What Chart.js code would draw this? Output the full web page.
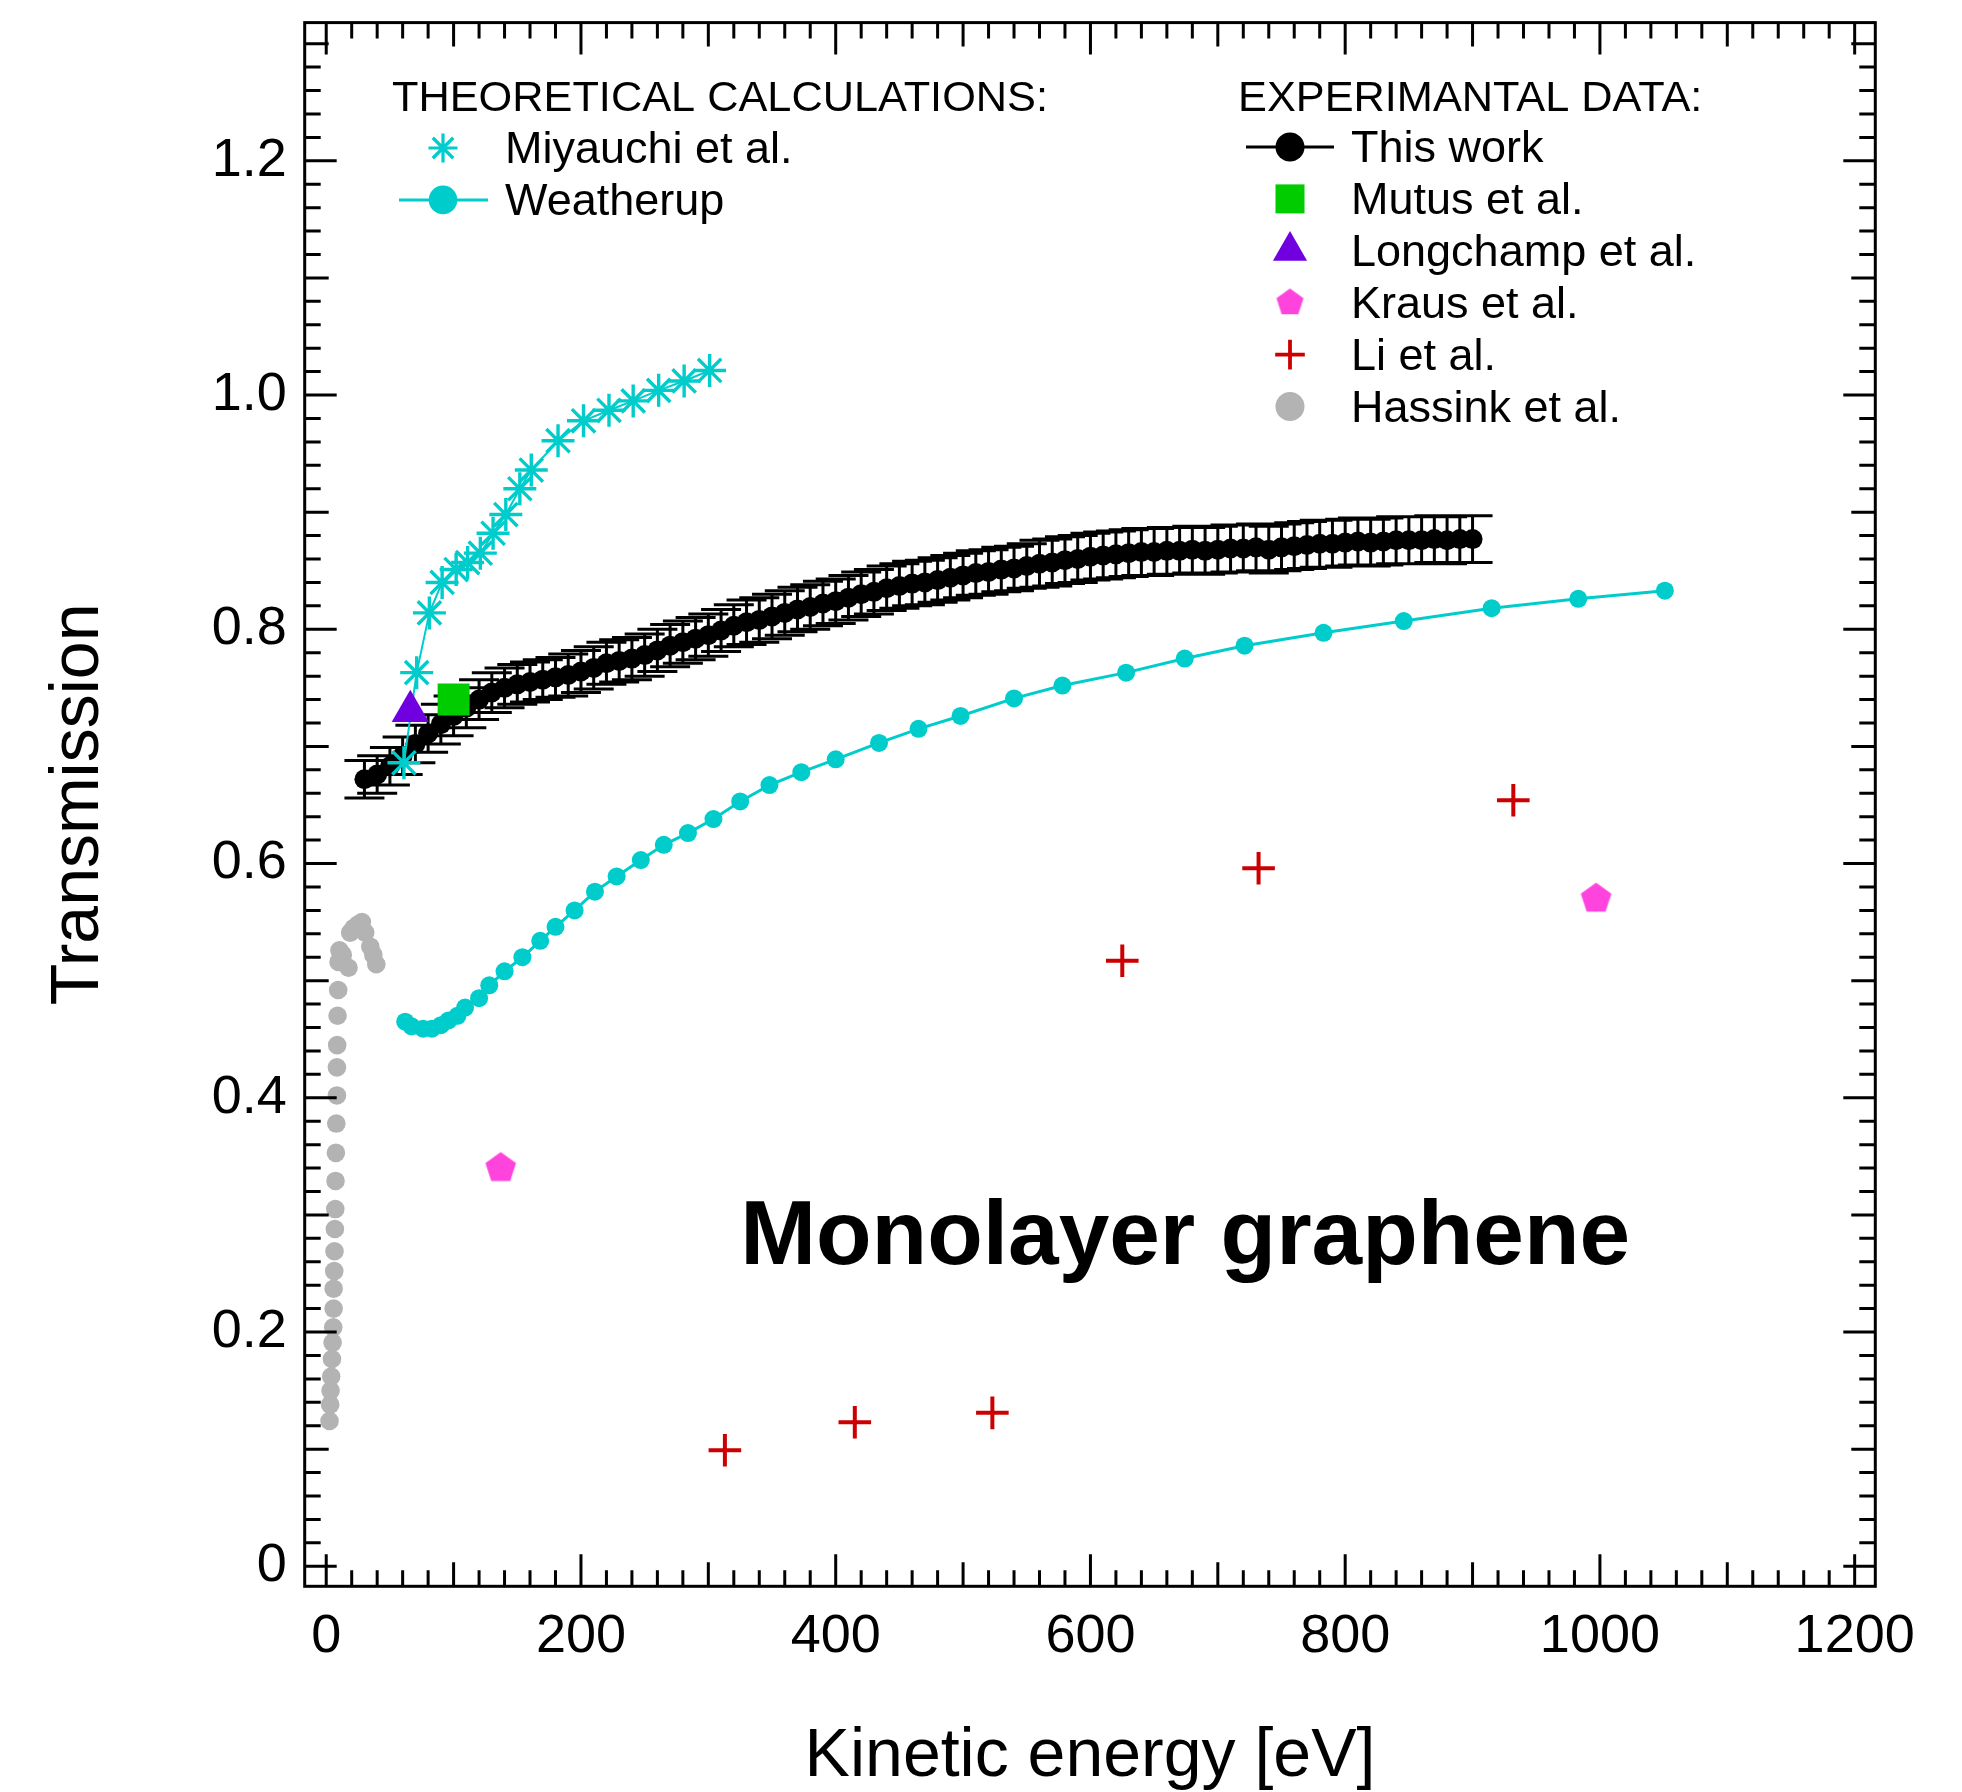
<!DOCTYPE html>
<html>
<head>
<meta charset="utf-8">
<title>Monolayer graphene transmission</title>
<script src="https://cdn.jsdelivr.net/npm/chart.js"></script>
<style>
  html, body { margin: 0; padding: 0; background: #fff; }
  canvas { display: block; }
</style>
</head>
<body>
<canvas id="chart" width="1962" height="1792"></canvas>
<script>
const FONT = "'Liberation Sans', Arial, Helvetica, sans-serif";

// axis ranges and labelled ticks
const xRange = [-16.9, 1216.2];
const yRange = [-0.0171, 1.318];
const xTickLabels = [0, 200, 400, 600, 800, 1000, 1200];
const yTickLabels = [0, 0.2, 0.4, 0.6, 0.8, 1.0, 1.2];

// This work (kinetic energy in eV, transmission, error)
const thisWorkE = [30, 40, 50, 60, 70, 80, 90, 100, 110, 120,
  130, 140, 150, 160, 170, 180, 190, 200, 210, 220,
  230, 240, 250, 260, 270, 280, 290, 300, 310, 320,
  330, 340, 350, 360, 370, 380, 390, 400, 410, 420,
  430, 440, 450, 460, 470, 480, 490, 500, 510, 520,
  530, 540, 550, 560, 570, 580, 590, 600, 610, 620,
  630, 640, 650, 660, 670, 680, 690, 700, 710, 720,
  730, 740, 750, 760, 770, 780, 790, 800, 810, 820,
  830, 840, 850, 860, 870, 880, 890, 900];
const thisWorkT = [0.672, 0.676, 0.683, 0.692, 0.702, 0.711, 0.719, 0.726, 0.733, 0.740,
  0.746, 0.750, 0.753, 0.755, 0.757, 0.759, 0.761, 0.764, 0.767, 0.771,
  0.773, 0.775, 0.778, 0.782, 0.786, 0.789, 0.792, 0.795, 0.799, 0.803,
  0.806, 0.808, 0.811, 0.814, 0.817, 0.819, 0.822, 0.824, 0.827, 0.830,
  0.832, 0.835, 0.837, 0.839, 0.840, 0.842, 0.844, 0.846, 0.848, 0.849,
  0.851, 0.852, 0.854, 0.856, 0.857, 0.859, 0.860, 0.862, 0.863, 0.864,
  0.865, 0.866, 0.866, 0.867, 0.867, 0.868, 0.867, 0.868, 0.869, 0.869,
  0.870, 0.868, 0.870, 0.871, 0.872, 0.873, 0.873, 0.874, 0.875, 0.874,
  0.875, 0.876, 0.876, 0.876, 0.877, 0.876, 0.877, 0.877];
const thisWorkErr = [0.016, 0.016, 0.016, 0.016, 0.016, 0.016, 0.017, 0.017, 0.017, 0.017,
  0.017, 0.017, 0.017, 0.017, 0.017, 0.017, 0.018, 0.018, 0.018, 0.018,
  0.018, 0.018, 0.018, 0.018, 0.018, 0.018, 0.018, 0.018, 0.018, 0.018,
  0.019, 0.019, 0.019, 0.019, 0.019, 0.019, 0.019, 0.019, 0.019, 0.019,
  0.019, 0.019, 0.019, 0.019, 0.019, 0.019, 0.019, 0.019, 0.019, 0.019,
  0.019, 0.019, 0.019, 0.020, 0.020, 0.020, 0.020, 0.020, 0.020, 0.020,
  0.020, 0.020, 0.020, 0.020, 0.020, 0.020, 0.020, 0.020, 0.020, 0.020,
  0.020, 0.020, 0.020, 0.020, 0.020, 0.020, 0.020, 0.020, 0.020, 0.020,
  0.020, 0.020, 0.020, 0.020, 0.020, 0.020, 0.020, 0.020];

// Weatherup calculation
const weatherupE = [62, 67, 76, 83, 90, 96, 103, 109, 120, 128, 140, 154, 168, 180, 195,
  211, 228, 247, 265, 284, 304, 325, 348, 373, 400, 434, 465, 498, 540, 578,
  628, 674, 721, 783, 846, 915, 983, 1051];
const weatherupT = [0.465, 0.461, 0.459, 0.459, 0.462, 0.466, 0.470, 0.477, 0.485, 0.496,
  0.508, 0.520, 0.534, 0.546, 0.560, 0.576, 0.589, 0.603, 0.616, 0.626,
  0.638, 0.653, 0.667, 0.678, 0.689, 0.703, 0.715, 0.726, 0.741, 0.752,
  0.763, 0.775, 0.786, 0.797, 0.807, 0.818, 0.826, 0.833];

// Miyauchi et al. calculation
const miyauchiE = [61, 71, 81, 91, 102, 111, 121, 131, 141, 152, 161, 182, 202, 222, 241, 261, 281, 301];
const miyauchiT = [0.686, 0.763, 0.814, 0.840, 0.851, 0.857, 0.865, 0.882, 0.898, 0.920,
  0.936, 0.961, 0.978, 0.987, 0.995, 1.004, 1.012, 1.021];

// Hassink et al.
const hassinkE = [2.6, 3.1, 3.4, 3.9, 4.5, 5.0, 5.5, 5.8, 5.8, 6.3, 6.5, 6.8, 7.1, 7.3, 7.6,
  7.9, 8.4, 8.4, 8.6, 8.9, 9.4, 9.7, 10.4, 13, 17.5, 18.8, 21.5, 25, 28, 30.6, 34.6, 37, 39.3];
const hassinkT = [0.124, 0.138, 0.150, 0.162, 0.177, 0.191, 0.204, 0.220, 0.237, 0.252,
  0.269, 0.288, 0.305, 0.329, 0.353, 0.378, 0.402, 0.426, 0.445, 0.470,
  0.492, 0.516, 0.526, 0.522, 0.511, 0.541, 0.545, 0.548, 0.550, 0.541,
  0.529, 0.522, 0.514];

// Li et al.
const liE = [313, 415, 523, 625, 732, 932];
const liT = [0.099, 0.123, 0.131, 0.517, 0.596, 0.654];

// Kraus et al.
const krausE = [137, 997];
const krausT = [0.340, 0.570];

// Mutus et al., Longchamp et al.
const mutusE = [100];
const mutusT = [0.740];
const longchampE = [66];
const longchampT = [0.730];

const CYAN = 'rgb(0,204,204)';
const GREEN = 'rgb(0,204,0)';
const PURPLE = 'rgb(112,0,224)';
const PINK = 'rgb(255,68,221)';
const RED = 'rgb(204,0,0)';
const GREY = 'rgb(179,179,179)';

const pts = (xs, ys) => xs.map((v, i) => ({ x: v, y: ys[i] }));

// Chart.js has no pentagon marker, so build one as an image
function pentagon(R, color) {
  const c = document.createElement('canvas');
  const s = Math.ceil(2 * R) + 2;
  c.width = s; c.height = s;
  const g = c.getContext('2d');
  g.fillStyle = color;
  g.beginPath();
  for (let i = 0; i < 5; i++) {
    const a = -Math.PI / 2 + i * 2 * Math.PI / 5;
    g.lineTo(s / 2 + R * Math.cos(a), s / 2 + R * Math.sin(a));
  }
  g.closePath();
  g.fill();
  return c;
}
const pentaPlot = pentagon(16.1, PINK);
const pentaKey = pentagon(14.2, PINK);

// vertical error bars with caps for "This work"
const errorBars = {
  id: 'errorBars',
  beforeDatasetsDraw(chart) {
    const { ctx, chartArea: a, scales: { x, y } } = chart;
    ctx.save();
    ctx.beginPath();
    ctx.rect(a.left, a.top, a.right - a.left, a.bottom - a.top);
    ctx.clip();
    ctx.strokeStyle = '#000';
    ctx.lineWidth = 3;
    ctx.beginPath();
    thisWorkE.forEach((e, i) => {
      const px = x.getPixelForValue(e);
      const hi = y.getPixelForValue(thisWorkT[i] + thisWorkErr[i]);
      const lo = y.getPixelForValue(thisWorkT[i] - thisWorkErr[i]);
      ctx.moveTo(px, hi); ctx.lineTo(px, lo);
      ctx.moveTo(px - 20, hi); ctx.lineTo(px + 20, hi);
      ctx.moveTo(px - 20, lo); ctx.lineTo(px + 20, lo);
    });
    ctx.stroke();
    ctx.restore();
  }
};

// boxed frame with inward ticks on all four sides, plus the caption
const frame = {
  id: 'frame',
  afterDatasetsDraw(chart) {
    const { ctx, chartArea: a, scales: { x, y } } = chart;
    ctx.save();
    ctx.fillStyle = '#000';
    ctx.font = `bold 91px ${FONT}`;
    ctx.textBaseline = 'alphabetic';
    ctx.textAlign = 'left';
    ctx.fillText('Monolayer graphene', x.getPixelForValue(325), y.getPixelForValue(0.258));

    ctx.strokeStyle = '#000';
    ctx.lineWidth = 3;
    ctx.lineCap = 'butt';
    ctx.beginPath();
    for (let v = 0; v <= x.max; v += 20) {
      const px = x.getPixelForValue(v);
      const len = v % 200 === 0 ? 32 : v % 100 === 0 ? 24 : 16;
      ctx.moveTo(px, a.bottom); ctx.lineTo(px, a.bottom - len);
      ctx.moveTo(px, a.top); ctx.lineTo(px, a.top + len);
    }
    for (let k = 0; k * 0.02 <= y.max; k++) {
      const py = y.getPixelForValue(k * 0.02);
      const len = k % 10 === 0 ? 32 : k % 5 === 0 ? 24 : 16;
      ctx.moveTo(a.left, py); ctx.lineTo(a.left + len, py);
      ctx.moveTo(a.right, py); ctx.lineTo(a.right - len, py);
    }
    ctx.stroke();
    ctx.strokeRect(a.left, a.top, a.right - a.left, a.bottom - a.top);
    ctx.restore();
  }
};

function marker(ctx, kind, cx, cy, r, color) {
  ctx.save();
  ctx.fillStyle = color;
  ctx.strokeStyle = color;
  ctx.beginPath();
  if (kind === 'circle') {
    ctx.arc(cx, cy, r, 0, Math.PI * 2);
    ctx.fill();
  } else if (kind === 'rect') {
    ctx.fillRect(cx - r, cy - r, 2 * r, 2 * r);
  } else if (kind === 'triangle') {
    ctx.moveTo(cx, cy - r);
    ctx.lineTo(cx + r * Math.sin(2 * Math.PI / 3), cy - r * Math.cos(2 * Math.PI / 3));
    ctx.lineTo(cx + r * Math.sin(4 * Math.PI / 3), cy - r * Math.cos(4 * Math.PI / 3));
    ctx.closePath();
    ctx.fill();
  } else if (kind === 'cross') {
    ctx.lineWidth = 3.8;
    ctx.moveTo(cx - r, cy); ctx.lineTo(cx + r, cy);
    ctx.moveTo(cx, cy - r); ctx.lineTo(cx, cy + r);
    ctx.stroke();
  } else if (kind === 'star') {
    ctx.lineWidth = 3.2;
    const d = r * Math.SQRT1_2;
    ctx.moveTo(cx - r, cy); ctx.lineTo(cx + r, cy);
    ctx.moveTo(cx, cy - r); ctx.lineTo(cx, cy + r);
    ctx.moveTo(cx - d, cy - d); ctx.lineTo(cx + d, cy + d);
    ctx.moveTo(cx - d, cy + d); ctx.lineTo(cx + d, cy - d);
    ctx.stroke();
  } else if (kind === 'pentagon') {
    ctx.drawImage(pentaKey, cx - pentaKey.width / 2, cy - pentaKey.height / 2);
  }
  ctx.restore();
}

// two-column key: theory on the left, experiments on the right
const keyLeft = [
  { label: 'Miyauchi et al.', kind: 'star', r: 14.5, color: CYAN },
  { label: 'Weatherup', kind: 'circle', r: 14.3, color: CYAN, line: [399, 488] }
];
const keyRight = [
  { label: 'This work', kind: 'circle', r: 14.5, color: '#000', line: [1246, 1334] },
  { label: 'Mutus et al.', kind: 'rect', r: 14.5, color: GREEN },
  { label: 'Longchamp et al.', kind: 'triangle', r: 19.7, color: PURPLE },
  { label: 'Kraus et al.', kind: 'pentagon', r: 14, color: PINK },
  { label: 'Li et al.', kind: 'cross', r: 14.8, color: RED },
  { label: 'Hassink et al.', kind: 'circle', r: 14.5, color: GREY }
];

const key = {
  id: 'key',
  afterDraw(chart) {
    const ctx = chart.ctx;
    ctx.save();
    ctx.fillStyle = '#000';
    ctx.textBaseline = 'alphabetic';
    ctx.textAlign = 'left';
    ctx.font = `43.3px ${FONT}`;
    ctx.fillText('THEORETICAL CALCULATIONS:', 392, 111);
    ctx.fillText('EXPERIMANTAL DATA:', 1238, 111);
    const column = (items, symX, textX, base0) => {
      items.forEach((it, i) => {
        const base = base0 + i * 51.9;
        const cy = base - 15;
        if (it.line) {
          ctx.save();
          ctx.strokeStyle = it.color;
          ctx.lineWidth = 3;
          ctx.beginPath();
          ctx.moveTo(it.line[0], cy); ctx.lineTo(it.line[1], cy);
          ctx.stroke();
          ctx.restore();
        }
        marker(ctx, it.kind, symX, cy, it.r, it.color);
        ctx.fillStyle = '#000';
        ctx.font = `45px ${FONT}`;
        ctx.fillText(it.label, textX, base);
      });
    };
    column(keyLeft, 443, 505, 163);
    column(keyRight, 1290, 1351, 162);
    ctx.restore();
  }
};

const tickFont = { family: FONT, size: 54 };
const titleFont = { family: FONT, size: 68, lineHeight: 1 };

// keep the plot box fixed: drop the label overhang Chart.js reserves
function fixBox(size) {
  return s => {
    if (s.isHorizontal()) s.height = size; else s.width = size;
    s.paddingTop = 0; s.paddingBottom = 0; s.paddingLeft = 0; s.paddingRight = 0;
  };
}

new Chart(document.getElementById('chart'), {
  type: 'scatter',
  data: {
    datasets: [
      {
        label: 'Mutus et al.', data: pts(mutusE, mutusT), order: 1,
        pointStyle: 'rect', pointRadius: 22.6, pointBorderWidth: 0,
        backgroundColor: GREEN, borderColor: GREEN
      },
      {
        label: 'Longchamp et al.', data: pts(longchampE, longchampT), order: 2,
        pointStyle: 'triangle', pointRadius: 21.5, pointBorderWidth: 0,
        backgroundColor: PURPLE, borderColor: PURPLE
      },
      {
        label: 'Kraus et al.', data: pts(krausE, krausT), order: 3,
        pointStyle: pentaPlot, pointRadius: 16
      },
      {
        label: 'Li et al.', data: pts(liE, liT), order: 4,
        pointStyle: 'cross', pointRadius: 16.3, pointBorderWidth: 4,
        backgroundColor: RED, borderColor: RED
      },
      {
        label: 'Miyauchi et al.', data: pts(miyauchiE, miyauchiT), order: 5,
        showLine: true, borderWidth: 2, borderColor: CYAN, backgroundColor: CYAN,
        pointStyle: 'star', pointRadius: 16.5, pointBorderWidth: 3.4, pointBorderColor: CYAN
      },
      {
        label: 'Hassink et al.', data: pts(hassinkE, hassinkT), order: 7,
        pointStyle: 'circle', pointRadius: 9.3, pointBorderWidth: 0,
        backgroundColor: GREY, borderColor: GREY
      },
      {
        label: 'Weatherup', data: pts(weatherupE, weatherupT), order: 8,
        showLine: true, borderWidth: 3, borderColor: CYAN, backgroundColor: CYAN,
        pointStyle: 'circle', pointRadius: 9, pointBorderWidth: 0
      },
      {
        label: 'This work', data: pts(thisWorkE, thisWorkT), order: 9,
        showLine: true, borderWidth: 3, borderColor: '#000', backgroundColor: '#000',
        pointStyle: 'circle', pointRadius: 10, pointBorderWidth: 0
      }
    ]
  },
  options: {
    responsive: false,
    animation: false,
    devicePixelRatio: 1,
    layout: { padding: { top: 16, right: 86.7, bottom: 0, left: 0 } },
    plugins: { legend: { display: false }, tooltip: { enabled: false } },
    elements: { point: { hoverRadius: 0 } },
    scales: {
      x: {
        type: 'linear',
        min: xRange[0], max: xRange[1],
        afterBuildTicks: s => { s.ticks = xTickLabels.map(v => ({ value: v })); },
        afterFit: fixBox(205.7),
        grid: { display: false, drawTicks: false },
        border: { display: false },
        ticks: {
          font: tickFont, color: '#000', padding: 18, maxRotation: 0, autoSkip: false,
          callback: v => String(v)
        },
        title: {
          display: true, text: 'Kinetic energy [eV]', color: '#000',
          font: titleFont, padding: { top: 0, bottom: 1 }
        }
      },
      y: {
        type: 'linear',
        min: yRange[0], max: yRange[1],
        afterBuildTicks: s => { s.ticks = yTickLabels.map(v => ({ value: v })); },
        afterFit: fixBox(304.7),
        grid: { display: false, drawTicks: false },
        border: { display: false },
        ticks: {
          font: tickFont, color: '#000', padding: 18, autoSkip: false,
          callback: v => (v === 0 ? '0' : v.toFixed(1))
        },
        title: {
          display: true, text: 'Transmission', color: '#000',
          font: titleFont, padding: { top: 45, bottom: 0 }
        }
      }
    }
  },
  plugins: [errorBars, frame, key]
});
</script>
</body>
</html>
